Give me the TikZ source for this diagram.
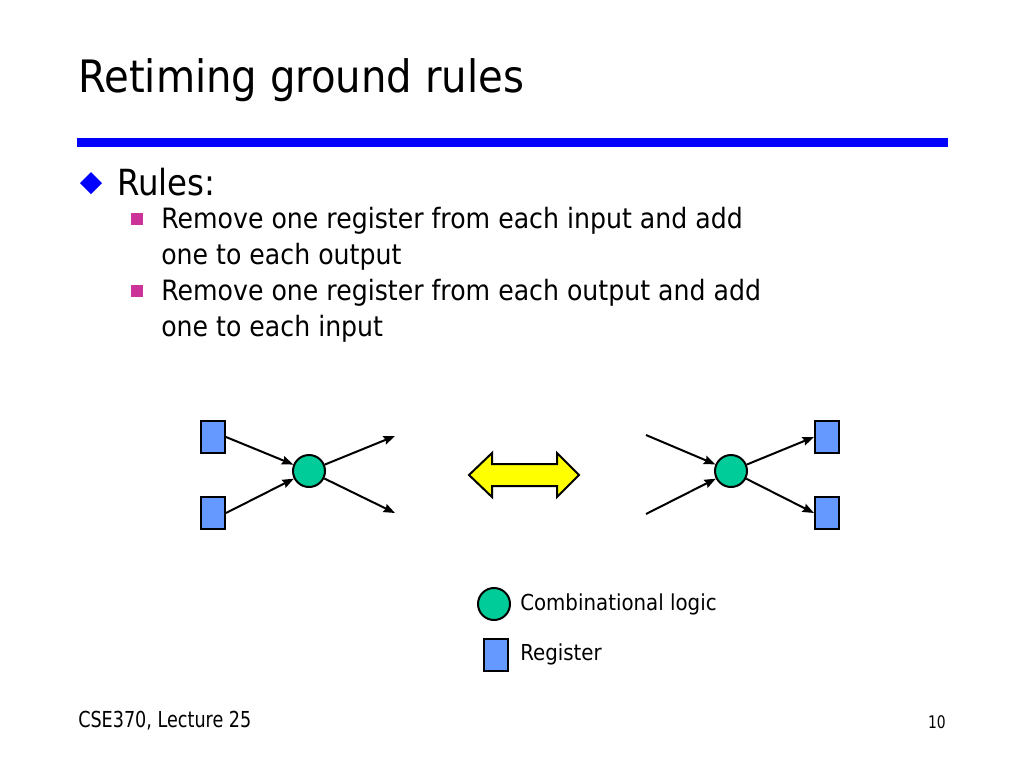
\documentclass[tikz,border=0pt]{standalone}
\usepackage{fontspec}
\setmainfont{DejaVu Sans}[FakeStretch=0.9]
\newfontfamily\footfont{DejaVu Sans}[FakeStretch=0.8]
\usetikzlibrary{arrows.meta}

\definecolor{regblue}{RGB}{102,153,255}
\definecolor{logicgreen}{RGB}{0,204,153}
\definecolor{bulletpink}{RGB}{204,51,153}
\definecolor{headblue}{RGB}{0,0,255}
\definecolor{swapyellow}{RGB}{255,255,0}

\tikzset{
  reg/.style={draw, line width=1.5pt, fill=regblue, minimum width=18pt, minimum height=24pt, inner sep=0pt},
  logic/.style={draw, circle, line width=1.5pt, fill=logicgreen, minimum size=24pt, inner sep=0pt},
  wire/.style={-{Stealth[length=8.5pt, width=6.5pt, inset=1pt]}, line width=1.5pt},
  txt/.style={anchor=base west, inner sep=0pt}
}

\begin{document}
\begin{tikzpicture}[x=0.75pt, y=-0.75pt]

\useasboundingbox (0,0) rectangle (1024,768);

\node [txt, font=\fontsize{33.5}{40}\selectfont] (title) at (78,92) {Retiming ground rules};
\fill [headblue] (77,138) rectangle (948,147);

\fill [headblue] (91,172) -- (102,183) -- (91,194) -- (80,183) -- cycle;
\node [txt, font=\fontsize{27}{32}\selectfont] (rules) at (117,195) {Rules:};

\foreach \y in {219, 291} \fill [bulletpink] (131,\y-6) rectangle (143,\y+6);

\foreach \b/\t in {228/Remove one register from each input and add, 264/one to each output,
                   300/Remove one register from each output and add, 336/one to each input}
  \node [txt, font=\fontsize{21}{26}\selectfont] (line\b) at (161,\b) {\t};

\node [reg] (inA) at (213,437) {};
\node [reg] (inB) at (213,513) {};
\node [logic] (gateL) at (309,471) {};
\coordinate (outA) at (395,436);
\coordinate (outB) at (395,513);

\draw [wire] (inA.east) -- (gateL);
\draw [wire] (inB.east) -- (gateL);
\draw [wire] (gateL) -- (outA);
\draw [wire] (gateL) -- (outB);

\draw [line width=1.5pt, fill=swapyellow, line join=miter]
  (469,475) -- (492,453) -- (492,464) -- (557,464) -- (557,453) -- (579,475)
  -- (557,497) -- (557,486) -- (492,486) -- (492,497) -- cycle;

\coordinate (inC) at (646,435);
\coordinate (inD) at (646,514);
\node [logic] (gateR) at (731,471) {};
\node [reg] (outC) at (827,437) {};
\node [reg] (outD) at (827,513) {};

\draw [wire] (inC) -- (gateR);
\draw [wire] (inD) -- (gateR);
\draw [wire] (gateR) -- (outC.west);
\draw [wire] (gateR) -- (outD.west);

\node [logic] (keyLogic) at (494,604) {};
\node [reg] (keyReg) at (496,655) {};
\node [txt, font=\fontsize{16.5}{20}\selectfont] (keyLogicText) at (520,610) {Combinational logic};
\node [txt, font=\fontsize{16.5}{20}\selectfont] (keyRegText) at (520,660) {Register};

\node [txt, font=\footfont\fontsize{16.5}{20}\selectfont] (footer) at (78,727) {CSE370, Lecture 25};
\node [anchor=base east, inner sep=0pt, font=\footfont\fontsize{13}{16}\selectfont] (page) at (946,728) {10};

\end{tikzpicture}
\end{document}
